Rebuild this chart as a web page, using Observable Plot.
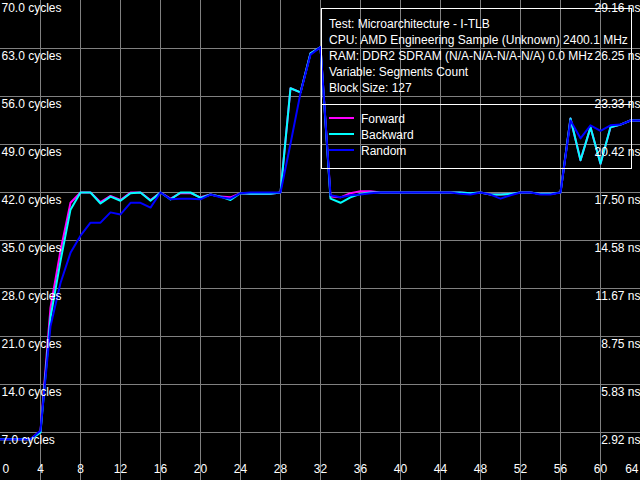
<!DOCTYPE html>
<html>
<head>
<meta charset="utf-8">
<script src="https://cdn.jsdelivr.net/npm/d3@7"></script>
<script src="https://cdn.jsdelivr.net/npm/@observablehq/plot@0.6"></script>
<style>
  html, body { margin: 0; padding: 0; background: #000; overflow: hidden; }
</style>
</head>
<body>
<div id="chart"></div>
<script>
// ---- data ----
const segments = [0,1,2,3,4,5,6,7,8,9,10,11,12,13,14,15,16,17,18,19,20,21,22,23,24,25,26,27,28,29,30,31,32,
  33,34,35,36,37,38,39,40,41,42,43,44,45,46,47,48,49,50,51,52,53,54,55,56,57,58,59,60,61,62,63,64];

const forward = [6,6,6,6,7.2,25.2,33.5,40.5,42,42,40.6,41.5,40.9,42,42,40.9,42,41.1,41.9,41.9,41.3,41.7,41.4,41.3,41.9,41.8,41.8,41.8,42,57.2,56.6,62.3,63.2,
  41.4,41.3,41.9,42.2,42.2,42,42,42,42,42,42,42,42,42,41.9,42,41.7,41.7,41.8,42,42,41.8,41.8,42,52.8,46.7,51.5,46.2,51.5,51.9,52.5,52.5];

const backward = [6,6,6,6,7.0,23.8,32,39.5,42,42,40.4,41.4,40.8,41.9,42,40.8,42,41,42,42,41.2,41.7,41.4,40.9,41.9,41.8,41.8,41.8,42,57.2,56.6,62.3,63.2,
  41.1,40.5,41.3,41.8,42,42,42,42,42,42,42,42,42,42,41.9,42,41.7,41.7,41.8,42,42,41.8,41.8,42,52.8,46.7,51.5,46.2,51.5,51.9,52.5,52.5];

const random = [6,6,6,6,7.3,22.5,28.8,33.2,35.7,37.6,37.6,39.1,38.8,40.5,40.5,39.8,42,41,41.1,41.1,41,41.7,41.3,41.1,41.9,42,42,42,42,49.1,56.5,62.1,63.2,
  41.6,41.3,41.6,41.7,41.9,42,42,42,42,42,42,42,42,41.8,41.7,42,41.7,41.1,41.6,42,42,41.7,41.7,42,52.5,49.9,51.8,51,51.8,51.9,52.5,52.5];

const seriesNames = ["Forward", "Backward", "Random"];
const seriesColors = ["#ff00ff", "#00ffff", "#0000ff"];
const seriesValues = [forward, backward, random];

const xTicks = [0,4,8,12,16,20,24,28,32,36,40,44,48,52,56,60,64];
const yTicks = [7,14,21,28,35,42,49,56,63,70];
const yTickLabels = ["7.0 cycles","14.0 cycles","21.0 cycles","28.0 cycles","35.0 cycles","42.0 cycles","49.0 cycles","56.0 cycles","63.0 cycles","70.0 cycles"];
const nsTickLabels = ["2.92 ns","5.83 ns","8.75 ns","11.67 ns","14.58 ns","17.50 ns","20.42 ns","23.33 ns","26.25 ns","29.16 ns"];

const infoLines = [
  "Test: Microarchitecture - I-TLB",
  "CPU: AMD Engineering Sample (Unknown) 2400.1 MHz",
  "RAM: DDR2 SDRAM (N/A-N/A-N/A-N/A) 0.0 MHz",
  "Variable: Segments Count",
  "Block Size: 127"
];

// ---- styles ----
const FONT = "'Liberation Sans', Arial, sans-serif";
const GRID = "#808080";
const TEXT = "#ffffff";

function legendBox() {
  const g = d3.create("svg:g")
    .attr("font-family", FONT).attr("font-size", 12).attr("text-anchor", "start");
  g.append("rect")
    .attr("x", 321.5).attr("y", 8.5).attr("width", 310).attr("height", 160)
    .attr("fill", "none").attr("stroke", "#ffffff").attr("stroke-width", 1);
  g.append("line")
    .attr("x1", 321.5).attr("x2", 631.5).attr("y1", 104.5).attr("y2", 104.5)
    .attr("stroke", "#ffffff").attr("stroke-width", 1);
  infoLines.forEach((t, i) => {
    g.append("text").attr("x", 329).attr("y", 23.5 + 16 * i).attr("dy", "0.35em")
      .attr("text-anchor", "start").attr("fill", TEXT).text(t);
  });
  seriesNames.forEach((n, i) => {
    g.append("line").attr("x1", 329).attr("x2", 354)
      .attr("y1", 118 + 16 * i).attr("y2", 118 + 16 * i)
      .attr("stroke", seriesColors[i]).attr("stroke-width", 2);
    g.append("text").attr("x", 361).attr("y", 119 + 16 * i).attr("dy", "0.35em")
      .attr("text-anchor", "start").attr("fill", TEXT).text(n);
  });
  return g.node();
}

const lineMarks = seriesValues.map((vals, k) =>
  Plot.line(vals, {x: (d, i) => segments[i], y: d => d, stroke: seriesColors[k], strokeWidth: 2, curve: "linear"})
);

const chart = Plot.plot({
  width: 640,
  height: 480,
  margin: 0,
  style: {background: "#000000", fontFamily: FONT, fontSize: "12px", color: TEXT},
  x: {domain: [0, 64], axis: null},
  y: {domain: [0, 70], axis: null},
  marks: [
    Plot.ruleX(xTicks.filter(t => t > 0 && t < 64), {x: d => d, stroke: GRID, strokeWidth: 1}),
    Plot.ruleY(yTicks.filter(t => t < 70), {y: d => d, stroke: GRID, strokeWidth: 1}),
    ...lineMarks,
    Plot.text(yTicks, {y: d => d, text: (d, i) => yTickLabels[i], frameAnchor: "left", textAnchor: "start", dx: 1, dy: 8, fill: TEXT, fontSize: 12}),
    Plot.text(yTicks, {y: d => d, text: (d, i) => nsTickLabels[i], frameAnchor: "right", textAnchor: "end", dx: 0, dy: 8, fill: TEXT, fontSize: 12}),
    Plot.text(xTicks.slice(0, 1), {x: d => d, text: d => String(d), frameAnchor: "bottom", textAnchor: "start", dx: 2, dy: -8, fill: TEXT, fontSize: 12}),
    Plot.text(xTicks.slice(1, -1), {x: d => d, text: d => String(d), frameAnchor: "bottom", textAnchor: "middle", dy: -8, fill: TEXT, fontSize: 12}),
    Plot.text(xTicks.slice(-1), {x: d => d, text: d => String(d), frameAnchor: "bottom", textAnchor: "end", dx: -2, dy: -8, fill: TEXT, fontSize: 12}),
    legendBox
  ]
});

document.getElementById("chart").appendChild(chart);
</script>
</body>
</html>
